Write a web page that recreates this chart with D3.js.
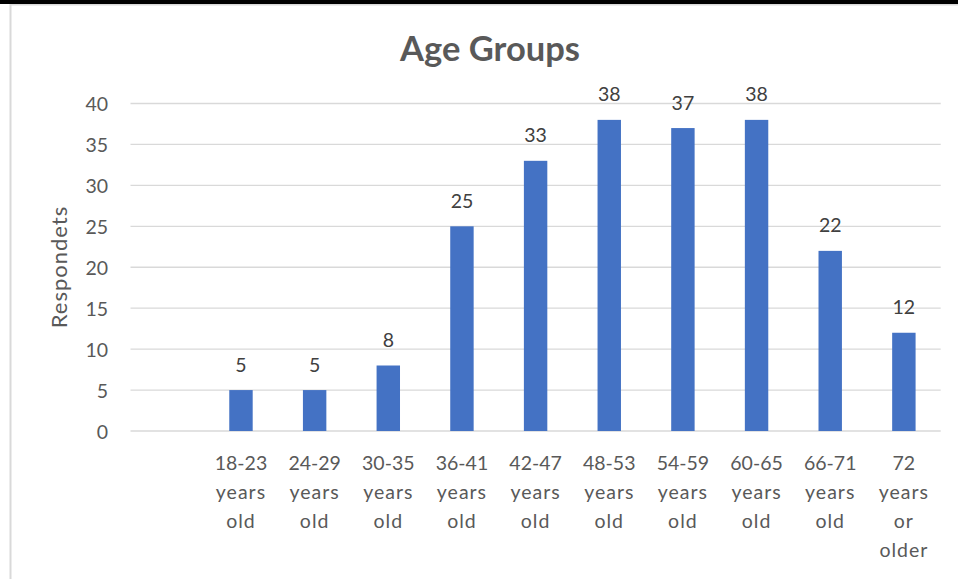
<!DOCTYPE html>
<html>
<head>
<meta charset="utf-8">
<script src="https://cdn.jsdelivr.net/npm/d3@7/dist/d3.min.js"></script>
<style>
  html, body { margin: 0; padding: 0; background: #fff; }
  svg { display: block; }
</style>
</head>
<body>
<svg id="chart" width="958" height="579"></svg>
<script>
// Respondents per age group (first slot is an empty category)
const categories = ["", "18-23 years old", "24-29 years old", "30-35 years old", "36-41 years old",
  "42-47 years old", "48-53 years old", "54-59 years old", "60-65 years old", "66-71 years old",
  "72 years or older"];
const respondents = [null, 5, 5, 8, 25, 33, 38, 37, 38, 22, 12];
const yTicks = [0, 5, 10, 15, 20, 25, 30, 35, 40];
const chartTitle = "Age Groups";
const yTitle = "Respondets";

const W = 958, H = 579;
const plot = { left: 130.5, right: 940.7, top: 103.5, bottom: 431 };
const FONT = "Lato, 'Open Sans', sans-serif";

const svg = d3.select("#chart");

// page rule above the chart and the chart frame
svg.append("rect").attr("x", 0).attr("y", 0).attr("width", W).attr("height", 4).attr("fill", "#000");
svg.append("rect").attr("x", 10).attr("y", 4).attr("width", W - 10).attr("height", 1.5).attr("fill", "#d9d9d9");
svg.append("rect").attr("x", 9.5).attr("y", 4).attr("width", 2).attr("height", H - 4).attr("fill", "#d9d9d9");

const x = d3.scaleBand().domain(categories).range([plot.left, plot.right]).paddingInner(0).paddingOuter(0);
const y = d3.scaleLinear().domain([0, 40]).range([plot.bottom, plot.top]);
const barW = x.step() * 0.318;

// gridlines
svg.append("g").selectAll("line").data(yTicks).join("line")
  .attr("x1", plot.left).attr("x2", plot.right)
  .attr("y1", d => y(d)).attr("y2", d => y(d))
  .attr("stroke", "#d9d9d9").attr("stroke-width", 1.3);

// y axis labels
const yAxis = d3.axisLeft(y).tickValues(yTicks).tickSize(0).tickPadding(0);
const gy = svg.append("g").attr("transform", `translate(108,0)`).call(yAxis);
gy.select(".domain").remove();
gy.selectAll("text").attr("font-family", FONT).attr("font-size", 19.5).attr("fill", "#595959")
  .attr("dy", "0.36em");

// bars
const rows = categories.map((c, i) => ({ c, v: respondents[i] })).filter(d => d.v != null);
svg.append("g").selectAll("rect").data(rows).join("rect")
  .attr("x", d => x(d.c) + x.bandwidth() / 2 - barW / 2)
  .attr("y", d => y(d.v))
  .attr("width", barW)
  .attr("height", d => y(0) - y(d.v))
  .attr("fill", "#4472c4");

// value labels
svg.append("g").selectAll("text").data(rows).join("text")
  .attr("x", d => x(d.c) + x.bandwidth() / 2)
  .attr("y", d => y(d.v) - 18.5)
  .attr("text-anchor", "middle")
  .attr("font-family", FONT).attr("font-size", 19.5).attr("fill", "#404040")
  .text(d => d.v);

// category labels, one word per line
const xl = svg.append("g").selectAll("text").data(categories).join("text")
  .attr("text-anchor", "middle")
  .attr("font-family", FONT).attr("font-size", 19.5).attr("fill", "#595959");
xl.each(function(d) {
  const cx = x(d) + x.bandwidth() / 2;
  d3.select(this).selectAll("tspan").data(d ? d.split(" ") : []).join("tspan")
    .attr("x", cx).attr("y", (w, i) => 470 + i * 29)
    .attr("letter-spacing", w => /[a-z]/.test(w) ? 1 : 0)
    .text(w => w);
});

// chart title
svg.append("text").attr("x", 490).attr("y", 61).attr("text-anchor", "middle")
  .attr("font-family", FONT).attr("font-weight", "bold").attr("font-size", 34.5).attr("fill", "#595959")
  .text(chartTitle);

// y axis title
svg.append("text").attr("transform", "translate(67,267) rotate(-90)")
  .attr("text-anchor", "middle")
  .attr("font-family", FONT).attr("font-size", 22).attr("letter-spacing", 1)
  .attr("fill", "#595959")
  .text(yTitle);
</script>
</body>
</html>
